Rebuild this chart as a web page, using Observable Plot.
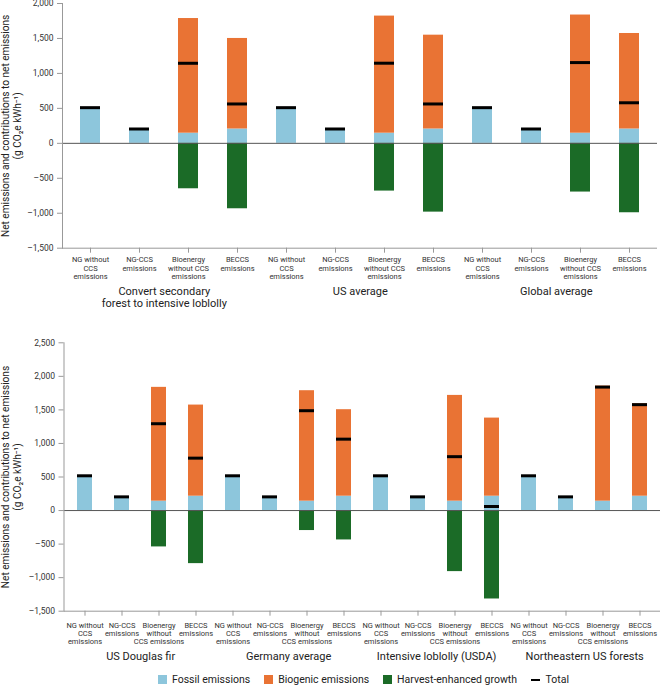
<!DOCTYPE html>
<html>
<head>
<meta charset="utf-8">
<script src="https://cdn.jsdelivr.net/npm/d3@7"></script>
<script src="https://cdn.jsdelivr.net/npm/@observablehq/plot@0.6"></script>
<style>
  html, body { margin: 0; padding: 0; background: #fff; }
  body { position: relative; width: 660px; height: 685px; font-family: Roboto, "Noto Sans", sans-serif; overflow: hidden; }
  #chart svg { display: block; }
  #legend { position: absolute; top: 672px; left: 158px; height: 15px; display: flex; align-items: center; font-size: 10.5px; color: #222; white-space: nowrap; }
  #legend .item { display: flex; align-items: center; margin-right: 14px; }
  #legend .sw { width: 8.5px; height: 8.5px; margin-right: 5.5px; }
  #legend .dash { width: 8.5px; height: 2px; background: #000; margin-right: 6px; }
</style>
</head>
<body>
<div id="chart"></div>
<div id="legend"></div>
<script>
// ---------- data ----------
const components = ["Fossil emissions", "Biogenic emissions", "Harvest-enhanced growth"];
const componentColors = ["#8dc6dc", "#e97334", "#1b6b27"];
const yTicks = [-1500, -1000, -500, 0, 500, 1000, 1500, 2000, 2500];

// Top panel
const topGroups = ["Convert secondary\nforest to intensive loblolly", "US average", "Global average"];
const topTypes = ["NG without\nCCS\nemissions", "NG-CCS\nemissions", "Bioenergy\nwithout CCS\nemissions", "BECCS\nemissions"];
const topFossil   = [490, 185, 145, 205,   490, 185, 145, 205,   490, 185, 145, 205];
const topBiogenic = [0, 0, 1640, 1295,     0, 0, 1675, 1342,     0, 0, 1690, 1366];
const topHarvest  = [0, 0, -650, -936,     0, 0, -683, -984,     0, 0, -697, -993];
const topTotal    = [510, 205, 1145, 563,  510, 205, 1146, 563,  510, 205, 1155, 580];

// Bottom panel
const botGroups = ["US Douglas fir", "Germany average", "Intensive loblolly (USDA)", "Northeastern US forests"];
const botTypes = ["NG without\nCCS\nemissions", "NG-CCS\nemissions", "Bioenergy\nwithout\nCCS emissions", "BECCS\nemissions"];
const botFossil   = [497, 184, 140, 214,   497, 184, 140, 214,   497, 184, 140, 214,   497, 184, 140, 214];
const botBiogenic = [0, 0, 1696, 1358,     0, 0, 1646, 1289,     0, 0, 1576, 1164,     0, 0, 1715, 1378];
const botHarvest  = [0, 0, -542, -791,     0, 0, -298, -438,     0, 0, -910, -1318,    0, 0, 0, 0];
const botTotal    = [518, 204, 1294, 781,  518, 204, 1488, 1064, 518, 204, 803, 60,    518, 204, 1840, 1578];

const yLabel = "Net emissions and contributions to net emissions\n(g CO\u2082e kWh\u207B\u00B9)";

function panel(o) {
  const keys = o.groups.flatMap((g, gi) => o.types.map((t, ti) => `${gi}-${ti}`));
  const rows = [];
  keys.forEach((k, i) => {
    rows.push({key: k, component: components[0], value: o.fossil[i]});
    rows.push({key: k, component: components[1], value: o.biogenic[i]});
    rows.push({key: k, component: components[2], value: o.harvest[i]});
  });
  const totals = keys.map((k, i) => ({key: k, total: o.total[i]}));
  const plotW = o.width - o.marginLeft - o.marginRight;
  const step = plotW / keys.length;
  const fmt = d => d3.format(",")(d).replace("\u2212", "\u2013");
  const ticks = yTicks.filter(t => t >= o.yDomain[0] && t <= o.yDomain[1]);
  return Plot.plot({
    width: o.width, height: o.height,
    marginTop: o.marginTop, marginBottom: o.marginBottom,
    marginLeft: o.marginLeft, marginRight: o.marginRight,
    style: {fontFamily: "Roboto, 'Noto Sans', sans-serif", fontSize: "8.5px", color: "#333", background: "#fff", overflow: "visible"},
    x: {type: "band", domain: keys, paddingInner: 0.6, paddingOuter: 0.3, axis: null},
    y: {domain: o.yDomain, axis: null},
    color: {domain: components, range: componentColors},
    marks: [
      Plot.barY(rows, {x: "key", y: "value", fill: "component"}),
      Plot.ruleY([0], {stroke: "#555", strokeWidth: 1}),
      Plot.tickY(totals, {x: "key", y: "total", stroke: "#000", strokeWidth: 3}),
      Plot.ruleY([o.yDomain[0]], {stroke: "#999", strokeWidth: 1}),
      Plot.frame({anchor: "left", stroke: "#999", strokeWidth: 1}),
      Plot.axisY({ticks, tickSize: 5, tickFormat: () => "", stroke: "#999", label: null}),
      Plot.axisY({ticks, tickSize: 0, tickPadding: 9, tickFormat: fmt, fill: "#333", fontSize: 8.5, label: null}),
      Plot.axisX({tickSize: 5, tickFormat: () => "", stroke: "#999", label: null}),
      Plot.axisX({tickSize: 0, tickPadding: o.xTickPadding, tickFormat: k => o.types[+k.split("-")[1]], fill: "#333", fontSize: 7.5, lineHeight: 1.12, label: null}),
      Plot.text(o.groups, {
        x: (d, i) => `${i}-1`, text: d => d, frameAnchor: "bottom",
        dx: step / 2, dy: o.groupDy, lineAnchor: "top", fontSize: 11, lineHeight: 1.08, fill: "#222"
      }),
      Plot.text([yLabel], {
        text: d => d, frameAnchor: "left", rotate: -90, dx: o.yLabelDx,
        fontSize: 10.1, lineHeight: 1.12, fill: "#222", textAnchor: "middle"
      })
    ]
  });
}

const chart = document.getElementById("chart");
chart.appendChild(panel({
  groups: topGroups, types: topTypes,
  fossil: topFossil, biogenic: topBiogenic, harvest: topHarvest, total: topTotal,
  width: 660, height: 330, marginTop: 3, marginBottom: 82.3, marginLeft: 62, marginRight: 3,
  yDomain: [-1500, 2000], xTickPadding: 8, groupDy: 38, yLabelDx: -51
}));
chart.appendChild(panel({
  groups: botGroups, types: botTypes,
  fossil: botFossil, biogenic: botBiogenic, harvest: botHarvest, total: botTotal,
  width: 660, height: 332, marginTop: 12.3, marginBottom: 51.3, marginLeft: 63.5, marginRight: 0,
  yDomain: [-1500, 2500], xTickPadding: 10.5, groupDy: 40, yLabelDx: -52.5
}));

// legend
const legend = document.getElementById("legend");
components.forEach((c, i) => {
  const it = document.createElement("div");
  it.className = "item";
  it.innerHTML = `<div class="sw" style="background:${componentColors[i]}"></div><span>${c}</span>`;
  legend.appendChild(it);
});
const tot = document.createElement("div");
tot.className = "item";
tot.innerHTML = `<div class="dash"></div><span>Total</span>`;
legend.appendChild(tot);
</script>
</body>
</html>
